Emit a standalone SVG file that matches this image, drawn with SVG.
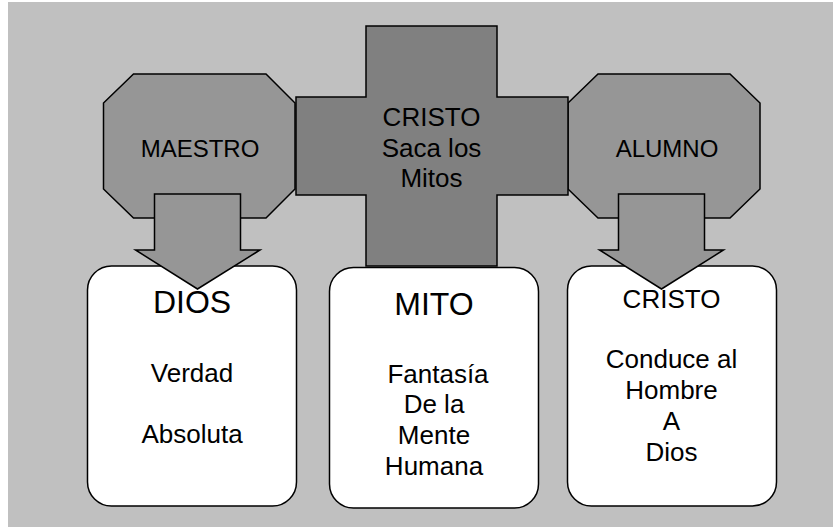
<svg xmlns="http://www.w3.org/2000/svg" width="833" height="527" viewBox="0 0 833 527">
<style>
.bg{fill:#c0c0c0}
.oct{fill:#969696;stroke:#000;stroke-width:1.5}
.cross{fill:#808080;stroke:#000;stroke-width:1.5}
.arrow{fill:#969696;stroke:#000;stroke-width:1.5}
.box{fill:#fff;stroke:#000;stroke-width:1.5}
text{font-family:"Liberation Sans",Arial,sans-serif;fill:#000;text-anchor:middle}
.lbl{font-size:24px}
.t1{font-size:26px}
.big{font-size:32px}
</style>
<rect class="bg" x="8" y="2" width="825" height="525"/>
<g id="maestro">
<polygon class="oct" points="133.5,74 266,74 295,103 295,189 266,218 133.5,218 103.5,189 103.5,103"/>
<text class="lbl" x="200" y="157">MAESTRO</text>
</g>
<g id="alumno">
<polygon class="oct" points="598,74 730,74 760,103 760,189 730,218 598,218 568,189 568,103"/>
<text class="lbl" x="667" y="157">ALUMNO</text>
</g>
<g id="cristo-cross">
<polygon class="cross" points="366,26 497,26 497,97 568,97 568,195 497,195 497,266 366,266 366,195 296,195 296,97 366,97"/>
<text class="t1" x="431.5" y="126">CRISTO</text>
<text class="t1" x="431.5" y="156.5">Saca los</text>
<text class="t1" x="431.5" y="187">Mitos</text>
</g>
<g id="dios">
<rect class="box" x="87.5" y="266" width="209" height="240" rx="24" ry="24"/>
<text class="big" x="192" y="313">DIOS</text>
<text class="t1" x="192" y="381.5">Verdad</text>
<text class="t1" x="192" y="442.5">Absoluta</text>
</g>
<g id="mito">
<rect class="box" x="329.5" y="267.5" width="209" height="240.5" rx="24" ry="24"/>
<text class="big" x="434" y="315">MITO</text>
<text class="t1" x="438" y="382.5">Fantasía</text>
<text class="t1" x="434" y="413">De la</text>
<text class="t1" x="434" y="444">Mente</text>
<text class="t1" x="434" y="475">Humana</text>
</g>
<g id="cristo">
<rect class="box" x="567.5" y="266" width="209" height="240" rx="24" ry="24"/>
<text class="t1" x="671.5" y="307.5">CRISTO</text>
<text class="t1" x="671.5" y="368">Conduce al</text>
<text class="t1" x="671.5" y="399">Hombre</text>
<text class="t1" x="671.5" y="430">A</text>
<text class="t1" x="671.5" y="460.5">Dios</text>
</g>
<g id="connectors">
<polygon class="arrow" points="154.5,194 240.5,194 240.5,250 260,250 197.5,289 135.5,250 154.5,250"/>
<polygon class="arrow" points="618.5,194 704.5,194 704.5,250 723.5,250 661.5,289 599.5,250 618.5,250"/>
</g>
</svg>
